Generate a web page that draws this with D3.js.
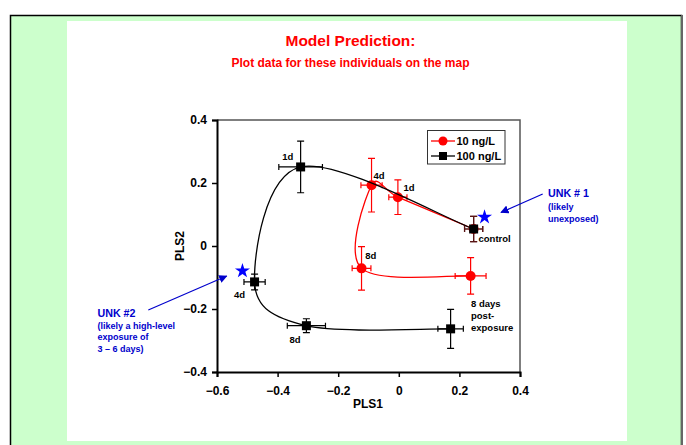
<!DOCTYPE html>
<html><head><meta charset="utf-8">
<script src="https://cdn.jsdelivr.net/npm/d3@7"></script>
<style>
html,body{margin:0;padding:0;background:#fff;}
svg text{font-family:"Liberation Sans",Arial,sans-serif;font-weight:bold;}
</style></head>
<body>
<svg id="c" width="686" height="445"></svg>
<script>
// ---- data ----
const stages = ["control","1d","4d","8d","post"];
const low_x  = [0.247, -0.003, -0.090, -0.123, 0.237];
const low_y  = [0.054, 0.155, 0.193, -0.071, -0.095];
const low_ex = [0.030, 0.030, 0.035, 0.031, 0.051];
const low_ey = [0.040, 0.055, 0.085, 0.069, 0.058];
const high_x  = [0.247, -0.324, -0.476, -0.305, 0.171];
const high_y  = [0.054, 0.251, -0.114, -0.253, -0.263];
const high_ex = [0.030, 0.072, 0.035, 0.063, 0.042];
const high_ey = [0.040, 0.082, 0.025, 0.022, 0.062];
const unk_x = [0.283, -0.516];
const unk_y = [0.095, -0.076];
const xTicks = [-0.6,-0.4,-0.2,0,0.2,0.4];
const yTicks = [-0.4,-0.2,0,0.2,0.4];
const seriesNames = ["10 ng/L","100 ng/L"];

const svg = d3.select("#c");
// background panels
svg.append("rect").attr("x",10.5).attr("y",15.5).attr("width",671).attr("height",440)
  .attr("fill","#ccffcc").attr("stroke","#000").attr("stroke-width",1.5);
svg.append("line").attr("x1",682).attr("x2",682).attr("y1",15).attr("y2",445).attr("stroke","#666").attr("stroke-width",2);
svg.append("rect").attr("x",67).attr("y",21).attr("width",560).attr("height",420).attr("fill","#fff");

svg.append("text").attr("x",350.5).attr("y",45.5).attr("text-anchor","middle")
  .attr("fill","#ff0000").attr("font-size",15.5).text("Model Prediction:");
svg.append("text").attr("x",350.5).attr("y",66.5).attr("text-anchor","middle")
  .attr("fill","#ff0000").attr("font-size",12).text("Plot data for these individuals on the map");

const x = d3.scaleLinear().domain([-0.6,0.4]).range([217,520]);
const y = d3.scaleLinear().domain([-0.4,0.4]).range([372,120]);

// frame top/right
svg.append("path").attr("d",`M${x(-0.6)},${y(0.4)}H${x(0.4)}V${y(-0.4)}`)
  .attr("fill","none").attr("stroke","#555").attr("stroke-width",1.5);

const fmt = d => d===0 ? "0" : d3.format(".1f")(d);
const gx = svg.append("g").attr("transform",`translate(0,${y(-0.4)})`)
  .call(d3.axisBottom(x).tickValues(xTicks).tickFormat(fmt).tickSize(5).tickPadding(9));
const gy = svg.append("g").attr("transform",`translate(${x(-0.6)},0)`)
  .call(d3.axisLeft(y).tickValues(yTicks).tickFormat(fmt).tickSize(5).tickPadding(5));
[gx,gy].forEach(g=>{
  g.select(".domain").attr("stroke","#000").attr("stroke-width",2);
  g.selectAll(".tick line").attr("stroke","#000").attr("stroke-width",1.5);
  g.selectAll(".tick text").attr("font-size",12).attr("fill","#000")
   .attr("font-family","Liberation Sans, Arial, sans-serif").attr("font-weight","bold");
});

svg.append("text").attr("x",368).attr("y",408).attr("text-anchor","middle").attr("font-size",12).text("PLS1");
svg.append("text").attr("transform","translate(184,246) rotate(-90)").attr("text-anchor","middle").attr("font-size",12).text("PLS2");

// Excel-like smoothed line through points (pixel space)
function smoothPath(pts){
  const p = d3.path();
  const n = pts.length;
  const dist=(a,b)=>Math.hypot(a[0]-b[0],a[1]-b[1]);
  p.moveTo(pts[0][0],pts[0][1]);
  for(let i=0;i<n-1;i++){
    const P0=pts[Math.max(i-1,0)], P1=pts[i], P2=pts[i+1], P3=pts[Math.min(i+2,n-1)];
    const d12=dist(P1,P2), d02=dist(P0,P2), d13=dist(P1,P3);
    let f1 = d02/6 < d12/2 ? 1/6 : d12/(2*d02);
    let f2 = d13/6 < d12/2 ? 1/6 : d12/(2*d13);
    const c1=[P1[0]+(P2[0]-P0[0])*f1, P1[1]+(P2[1]-P0[1])*f1];
    const c2=[P2[0]-(P3[0]-P1[0])*f2, P2[1]-(P3[1]-P1[1])*f2];
    p.bezierCurveTo(c1[0],c1[1],c2[0],c2[1],P2[0],P2[1]);
  }
  return p.toString();
}
function series(xs,ys,exs,eys,color,barColor,shape){
  const pts = xs.map((v,i)=>[v,ys[i],exs[i],eys[i]]);
  svg.append("path").attr("d",smoothPath(pts.map(d=>[x(d[0]),y(d[1])]))).attr("fill","none").attr("stroke",color).attr("stroke-width",1.3);
  const g = svg.append("g");
  pts.forEach((p,i)=>{
    const bc = i===0 ? "#5a1414" : barColor;
    const cx=x(p[0]), cy=y(p[1]);
    const x0=x(p[0]-p[2]), x1=x(p[0]+p[2]), y0=y(p[1]-p[3]), y1=y(p[1]+p[3]);
    const d = `M${x0},${cy}H${x1}M${x0},${cy-3}V${cy+3}M${x1},${cy-3}V${cy+3}`+
              `M${cx},${y0}V${y1}M${cx-3.5},${y0}H${cx+3.5}M${cx-3.5},${y1}H${cx+3.5}`;
    g.append("path").attr("d",d).attr("stroke",bc).attr("stroke-width",1.2).attr("fill","none");
    if(shape==="circle") g.append("circle").attr("cx",cx).attr("cy",cy).attr("r",5).attr("fill",color);
    else g.append("rect").attr("x",cx-4.5).attr("y",cy-4.5).attr("width",9).attr("height",9).attr("fill",color);
  });
}
series(low_x,low_y,low_ex,low_ey,"#ff0000","#ff0000","circle");
series(high_x,high_y,high_ex,high_ey,"#000","#000","square");

// stars
const star = d3.symbol().type(d3.symbolStar).size(70);
unk_x.forEach((v,i)=>{
  svg.append("path").attr("d",star()).attr("transform",`translate(${x(v)},${y(unk_y[i])+1})`).attr("fill","#0000ff");
});

// point labels
const lab = (t,px,py,c,anchor)=>svg.append("text").attr("x",px).attr("y",py).attr("font-size",9.5)
  .attr("fill",c||"#000").attr("text-anchor",anchor||"middle").text(t);
lab("1d",287.7,160);
lab("4d",379,178.5);
lab("1d",409,190.5);
lab("control",478.5,241.5,"#000","start");
lab("8d",370.7,259);
lab("8 days",471,306.5,"#000","start");
lab("post-",471,319,"#000","start");
lab("exposure",471,330.5,"#000","start");
lab("8d",295,342.5);
lab("4d",239.5,297.5);

// legend
const lg = svg.append("g");
lg.append("rect").attr("x",427.5).attr("y",130.5).attr("width",77.5).attr("height",33.5)
  .attr("fill","#fff").attr("stroke","#333").attr("stroke-width",1);
[["#ff0000","circle",141],["#000","square",156]].forEach((r,i)=>{
  lg.append("line").attr("x1",431).attr("x2",455).attr("y1",r[2]).attr("y2",r[2]).attr("stroke",r[0]).attr("stroke-width",1.3);
  if(r[1]==="circle") lg.append("circle").attr("cx",443).attr("cy",r[2]).attr("r",4.5).attr("fill",r[0]);
  else lg.append("rect").attr("x",439).attr("y",r[2]-4).attr("width",8).attr("height",8).attr("fill",r[0]);
  lg.append("text").attr("x",456.5).attr("y",r[2]+4).attr("font-size",11).text(seriesNames[i]);
});

// annotations
svg.append("defs").append("marker").attr("id","ah").attr("viewBox","0 0 10 10").attr("refX",9).attr("refY",5)
  .attr("markerWidth",7).attr("markerHeight",7).attr("orient","auto")
  .append("path").attr("d","M0,0L10,5L0,10z").attr("fill","#0000cc");
svg.append("line").attr("x1",542.7).attr("y1",194).attr("x2",501).attr("y2",212.5)
  .attr("stroke","#0000cc").attr("stroke-width",1.2).attr("marker-end","url(#ah)");
svg.append("line").attr("x1",148.3).attr("y1",310).attr("x2",226.7).attr("y2",276)
  .attr("stroke","#0000cc").attr("stroke-width",1.2).attr("marker-end","url(#ah)");
const blue="#0000cc";
svg.append("text").attr("x",548).attr("y",197).attr("font-size",10.7).attr("fill",blue).text("UNK # 1");
svg.append("text").attr("x",548).attr("y",209.5).attr("font-size",9).attr("fill",blue).text("(likely");
svg.append("text").attr("x",548).attr("y",221.5).attr("font-size",9).attr("fill",blue).text("unexposed)");
svg.append("text").attr("x",97.5).attr("y",317).attr("font-size",10.7).attr("fill",blue).text("UNK #2");
svg.append("text").attr("x",97.5).attr("y",328.5).attr("font-size",9).attr("fill",blue).text("(likely a high-level");
svg.append("text").attr("x",97.5).attr("y",340).attr("font-size",9).attr("fill",blue).text("exposure of");
svg.append("text").attr("x",97.5).attr("y",351.5).attr("font-size",9).attr("fill",blue).text("3 – 6 days)");
</script>
</body></html>
